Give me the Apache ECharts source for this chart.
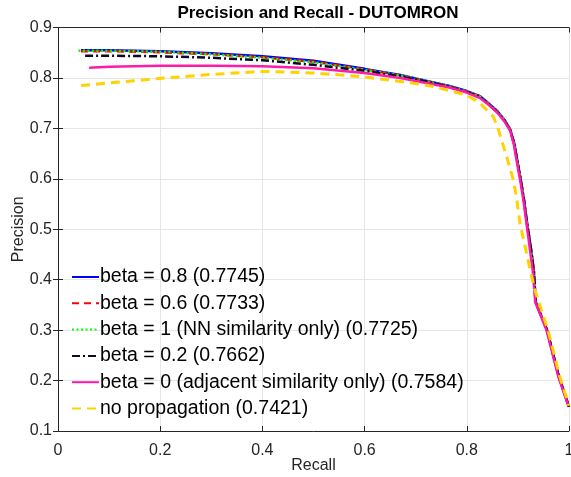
<!DOCTYPE html>
<html>
<head>
<meta charset="utf-8">
<script src="https://cdn.jsdelivr.net/npm/echarts@6/dist/echarts.min.js"></script>
<style>
  html, body { margin: 0; padding: 0; background: #fff; }
  #chart { width: 571px; height: 477px; }
</style>
</head>
<body>
<div id="chart"></div>
<script>
// PR curves, [recall, precision]
const beta08 = [[0.045,0.855],[0.1,0.855],[0.2,0.853],[0.3,0.849],[0.4,0.843],[0.5,0.834],[0.6,0.818],[0.67,0.806],[0.7,0.799],[0.766,0.784],[0.8,0.774],[0.826,0.764],[0.84,0.752],[0.86,0.734],[0.875,0.715],[0.885,0.698],[0.893,0.67],[0.899,0.635],[0.906,0.596],[0.912,0.558],[0.918,0.512],[0.925,0.466],[0.931,0.42],[0.935,0.356],[0.957,0.30],[0.98,0.208],[1.0,0.148]];
const beta06 = [[0.045,0.853],[0.1,0.853],[0.2,0.851],[0.3,0.847],[0.4,0.841],[0.5,0.832],[0.6,0.817],[0.67,0.805],[0.7,0.798],[0.766,0.783],[0.8,0.773],[0.826,0.763],[0.84,0.751],[0.86,0.733],[0.875,0.714],[0.885,0.697],[0.893,0.669],[0.899,0.634],[0.906,0.595],[0.912,0.557],[0.918,0.511],[0.925,0.465],[0.931,0.419],[0.935,0.355],[0.957,0.30],[0.98,0.208],[1.0,0.148]];
const beta1 = [[0.04,0.854],[0.1,0.854],[0.2,0.852],[0.3,0.847],[0.4,0.840],[0.5,0.831],[0.6,0.816],[0.67,0.805],[0.7,0.798],[0.766,0.783],[0.8,0.773],[0.826,0.763],[0.84,0.751],[0.86,0.733],[0.875,0.714],[0.885,0.697],[0.893,0.669],[0.899,0.634],[0.906,0.595],[0.912,0.557],[0.918,0.511],[0.925,0.465],[0.931,0.419],[0.935,0.355],[0.957,0.30],[0.98,0.208],[1.0,0.148]];
const beta02 = [[0.053,0.844],[0.1,0.844],[0.2,0.843],[0.3,0.840],[0.4,0.835],[0.5,0.826],[0.6,0.814],[0.67,0.803],[0.7,0.797],[0.766,0.782],[0.8,0.772],[0.826,0.762],[0.84,0.750],[0.86,0.732],[0.875,0.713],[0.885,0.696],[0.893,0.668],[0.899,0.633],[0.906,0.594],[0.912,0.556],[0.918,0.510],[0.925,0.464],[0.931,0.418],[0.935,0.354],[0.957,0.30],[0.98,0.208],[1.0,0.148]];
const beta0 = [[0.061,0.820],[0.1,0.822],[0.2,0.824],[0.3,0.824],[0.4,0.823],[0.5,0.819],[0.6,0.810],[0.67,0.800],[0.7,0.794],[0.766,0.781],[0.8,0.771],[0.826,0.760],[0.84,0.749],[0.86,0.731],[0.875,0.712],[0.885,0.695],[0.892,0.668],[0.898,0.633],[0.905,0.594],[0.911,0.556],[0.917,0.510],[0.923,0.464],[0.929,0.418],[0.934,0.355],[0.956,0.30],[0.979,0.208],[0.998,0.152]];
const noProp = [[0.045,0.785],[0.1,0.790],[0.2,0.799],[0.3,0.807],[0.4,0.813],[0.5,0.810],[0.6,0.802],[0.7,0.789],[0.734,0.783],[0.8,0.766],[0.826,0.750],[0.852,0.723],[0.861,0.70],[0.878,0.644],[0.891,0.598],[0.897,0.565],[0.904,0.512],[0.914,0.466],[0.924,0.419],[0.933,0.380],[0.946,0.340],[0.959,0.30],[0.982,0.208],[1.0,0.150]];

const seriesNames = [
  'beta = 0.8 (0.7745)',
  'beta = 0.6 (0.7733)',
  'beta = 1 (NN similarity only) (0.7725)',
  'beta = 0.2 (0.7662)',
  'beta = 0 (adjacent similarity only) (0.7584)',
  'no propagation (0.7421)'
];
const xTicks = [0, 0.2, 0.4, 0.6, 0.8, 1];
const yTicks = [0.1, 0.2, 0.3, 0.4, 0.5, 0.6, 0.7, 0.8, 0.9];

const font = 'Liberation Sans, Arial, Helvetica, sans-serif';
const axisColor = '#262626';

const myChart = echarts.init(document.getElementById('chart'));

function line(name, data, color, type, width) {
  return {
    name: name,
    type: 'line',
    data: data,
    symbol: 'none',
    showSymbol: false,
    lineStyle: { color: color, width: width || 2.5, type: type },
    itemStyle: { color: color },
    xAxisIndex: 0,
    yAxisIndex: 0,
    animation: false
  };
}

const baseX = {
  type: 'value',
  min: xTicks[0],
  max: xTicks[xTicks.length - 1],
  interval: 0.2,
  axisLine: { show: true, lineStyle: { color: axisColor, width: 1 } },
  axisTick: { show: true, inside: true, length: 5, lineStyle: { color: axisColor } },
  splitLine: { show: true, lineStyle: { color: '#e6e6e6', width: 1 } }
};
const baseY = {
  type: 'value',
  min: yTicks[0],
  max: yTicks[yTicks.length - 1],
  interval: 0.1,
  axisLine: { show: true, lineStyle: { color: axisColor, width: 1 } },
  axisTick: { show: true, inside: true, length: 5, lineStyle: { color: axisColor } },
  splitLine: { show: true, lineStyle: { color: '#e6e6e6', width: 1 } }
};

const option = {
  backgroundColor: '#fff',
  animation: false,
  title: {
    text: 'Precision and Recall - DUTOMRON',
    left: 313,
    textAlign: 'center',
    top: 0,
    textStyle: { fontFamily: font, fontSize: 17, fontWeight: 'bold', color: '#000' }
  },
  grid: { left: 58, right: 2, top: 27.5, bottom: 46, containLabel: false, outerBoundsMode: 'none' },
  legend: {
    orient: 'vertical',
    left: 66,
    top: 262,
    itemWidth: 27,
    itemHeight: 12,
    itemGap: 6.3,
    itemStyle: { opacity: 0 },
    textStyle: { fontFamily: font, fontSize: 19.5, color: '#000', lineHeight: 20, padding: [0, 0, 0, -4] },
    data: seriesNames
  },
  xAxis: [
    Object.assign({}, baseX, {
      position: 'bottom',
      name: 'Recall',
      nameLocation: 'middle',
      nameGap: 27,
      nameMoveOverlap: false,
      nameTextStyle: { fontFamily: font, fontSize: 16, color: axisColor },
      axisLabel: { fontFamily: font, fontSize: 16, color: axisColor, margin: 12 }
    }),
    Object.assign({}, baseX, {
      position: 'top',
      axisLabel: { show: false },
      splitLine: { show: false }
    })
  ],
  yAxis: [
    Object.assign({}, baseY, {
      position: 'left',
      name: 'Precision',
      nameLocation: 'middle',
      nameGap: 31,
      nameMoveOverlap: false,
      nameTextStyle: { fontFamily: font, fontSize: 16, color: axisColor },
      axisLabel: { fontFamily: font, fontSize: 16, color: axisColor, margin: 6 }
    }),
    Object.assign({}, baseY, {
      position: 'right',
      axisLabel: { show: false },
      splitLine: { show: false }
    })
  ],
  series: [
    line(seriesNames[0], beta08, '#0000ff', 'solid', 2.5),
    line(seriesNames[1], beta06, '#ff0000', [7, 5], 2.5),
    line(seriesNames[2], beta1, '#00ff00', [2, 2.5], 2.5),
    line(seriesNames[3], beta02, '#0a0a28', [8, 3, 2, 3], 2.5),
    line(seriesNames[4], beta0, '#ff1aa8', 'solid', 2.5),
    line(seriesNames[5], noProp, '#ffd200', [9, 6], 3)
  ]
};

option && myChart.setOption(option);
</script>
</body>
</html>
